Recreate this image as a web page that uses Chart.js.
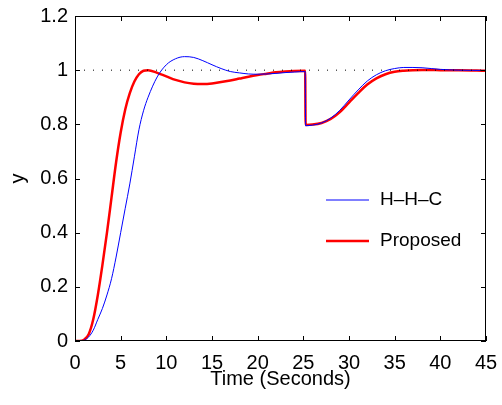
<!DOCTYPE html>
<html>
<head>
<meta charset="utf-8">
<script src="https://cdn.jsdelivr.net/npm/chart.js@4.4.0/dist/chart.umd.min.js"></script>
<style>
  html, body { margin: 0; padding: 0; background: #fff; }
  #wrap { width: 502px; height: 405px; }
</style>
</head>
<body>
<div id="wrap"><canvas id="chart" width="502" height="405"></canvas></div>
<script>
// Time samples (seconds); the load step at ~25.2 s uses two close samples
const timeSec = [0, 0.5, 1, 1.5, 2, 2.5, 3, 3.5, 4, 4.5, 5, 5.5, 6, 6.5, 7, 7.5, 8, 9, 10, 11, 12, 13, 14, 15, 16, 17, 18, 19, 20, 21, 22, 23, 24, 25.2, 25.25, 26, 27, 28, 29, 30, 31, 32, 33, 34, 35, 36, 37, 38, 39, 40, 42, 45];

const hhcY = [0, 0, 0.003, 0.015, 0.04, 0.08, 0.12, 0.17, 0.23, 0.31, 0.40, 0.49, 0.58, 0.68, 0.78, 0.85, 0.90, 0.975, 1.02, 1.042, 1.05, 1.047, 1.035, 1.02, 1.006, 0.995, 0.99, 0.986, 0.985, 0.986, 0.988, 0.991, 0.993, 0.995, 0.795, 0.797, 0.805, 0.823, 0.852, 0.89, 0.927, 0.96, 0.983, 0.998, 1.006, 1.01, 1.01, 1.009, 1.006, 1.003, 1.0, 0.999];

const proposedY = [0, 0, 0.005, 0.025, 0.08, 0.17, 0.28, 0.40, 0.53, 0.66, 0.77, 0.855, 0.915, 0.958, 0.985, 0.998, 1.0, 0.99, 0.977, 0.964, 0.955, 0.95, 0.949, 0.951, 0.956, 0.962, 0.969, 0.976, 0.982, 0.987, 0.992, 0.995, 0.997, 0.998, 0.798, 0.799, 0.805, 0.82, 0.845, 0.88, 0.915, 0.947, 0.97, 0.985, 0.994, 0.998, 1.0, 1.001, 1.001, 1.0, 1.0, 0.998];

// Set-point reference line
const refX = [0, 45];
const refY = [1, 1];

const xTicks = [0, 5, 10, 15, 20, 25, 30, 35, 40, 45];
const yTicks = [0, 0.2, 0.4, 0.6, 0.8, 1, 1.2];

const FONT = "'Liberation Sans', Arial, sans-serif";

const toPoints = (xs, ys) => xs.map((x, i) => ({ x: x, y: ys[i] }));

// frame, inward ticks on all four sides, legend inside the axes
const framePlugin = {
    id: 'frame',
    afterDatasetsDraw(chart) {
        const { ctx, chartArea: a, scales } = chart;
        const len = 5;
        ctx.save();
        ctx.strokeStyle = '#000';
        ctx.lineWidth = 1;
        ctx.strokeRect(a.left + 0.5, a.top + 0.5, a.right - a.left - 1, a.bottom - a.top - 1);
        ctx.beginPath();
        xTicks.forEach(v => {
            const px = Math.round(scales.x.getPixelForValue(v)) + 0.5;
            ctx.moveTo(px, a.bottom); ctx.lineTo(px, a.bottom - len);
            ctx.moveTo(px, a.top); ctx.lineTo(px, a.top + len);
        });
        yTicks.forEach(v => {
            const py = Math.round(scales.y.getPixelForValue(v)) + 0.5;
            ctx.moveTo(a.left, py); ctx.lineTo(a.left + len, py);
            ctx.moveTo(a.right, py); ctx.lineTo(a.right - len, py);
        });
        ctx.stroke();

        // legend
        const items = chart.data.datasets.filter(d => d.label);
        let y = a.top + 184;
        items.forEach(d => {
            ctx.strokeStyle = d.borderColor;
            ctx.lineWidth = d.borderWidth;
            ctx.beginPath();
            ctx.moveTo(a.left + 251, y);
            ctx.lineTo(a.left + 294, y);
            ctx.stroke();
            ctx.fillStyle = '#000';
            ctx.font = '19px ' + FONT;
            ctx.textBaseline = 'middle';
            ctx.fillText(d.label, a.left + 305, y);
            y += 41;
        });
        ctx.restore();
    }
};

const ctx = document.getElementById('chart').getContext('2d');
new Chart(ctx, {
    type: 'line',
    data: {
        datasets: [
            {
                data: toPoints(refX, refY),
                borderColor: '#000',
                borderWidth: 1,
                borderDash: [1, 8],
                pointRadius: 0
            },
            {
                label: 'H\u2013H\u2013C',
                data: toPoints(timeSec, hhcY),
                borderColor: '#0000ff',
                borderWidth: 1,
                pointRadius: 0,
                cubicInterpolationMode: 'monotone'
            },
            {
                label: 'Proposed',
                data: toPoints(timeSec, proposedY),
                borderColor: '#ff0000',
                borderWidth: 2.5,
                pointRadius: 0,
                cubicInterpolationMode: 'monotone'
            }
        ]
    },
    options: {
        responsive: false,
        animation: false,
        layout: { padding: { top: 16, right: 16, left: 0, bottom: 0 } },
        plugins: { legend: { display: false }, tooltip: { enabled: false } },
        scales: {
            x: {
                type: 'linear',
                min: 0, max: 45,
                afterBuildTicks: s => { s.ticks = xTicks.map(v => ({ value: v })); },
                afterFit: s => { s.height = 64; s.paddingLeft = 0; s.paddingRight = 0; },
                grid: { display: false, drawTicks: false },
                border: { display: false },
                ticks: { color: '#000', font: { family: FONT, size: 20 }, padding: 10, maxRotation: 0 },
                title: { display: true, text: 'Time (Seconds)', color: '#000', font: { family: FONT, size: 20 }, padding: { top: 0, bottom: 14 } }
            },
            y: {
                min: 0, max: 1.2,
                afterBuildTicks: s => { s.ticks = yTicks.map(v => ({ value: v })); },
                afterFit: s => { s.width = 75; s.paddingTop = 0; s.paddingBottom = 0; },
                grid: { display: false, drawTicks: false },
                border: { display: false },
                ticks: { color: '#000', font: { family: FONT, size: 20 }, padding: 7, callback: v => String(v) },
                title: { display: true, text: 'y', color: '#000', font: { family: FONT, size: 20 }, padding: { top: 6, bottom: 0 } }
            }
        }
    },
    plugins: [framePlugin]
});
</script>
</body>
</html>
